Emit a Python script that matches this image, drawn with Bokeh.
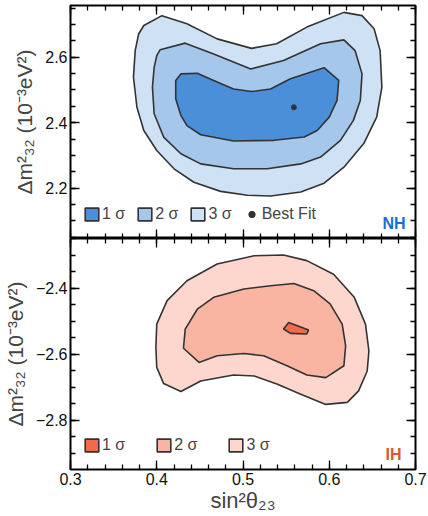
from bokeh.plotting import figure
from bokeh.layouts import column
from bokeh.models import LinearAxis, FixedTicker, Legend, LegendItem, Label, Range1d
from bokeh.embed import file_html
from bokeh.resources import INLINE

# ---------------- data ----------------
x_ticks = [0.3, 0.4, 0.5, 0.6, 0.7]
x_tick_labels = ["0.3", "0.4", "0.5", "0.6", "0.7"]
nh_y_ticks = [2.2, 2.4, 2.6]
nh_y_tick_labels = ["2.2", "2.4", "2.6"]
ih_y_ticks = [-2.8, -2.6, -2.4]
ih_y_tick_labels = ["\u22122.8", "\u22122.6", "\u22122.4"]

sigma_labels = ["1 \u03c3", "2 \u03c3", "3 \u03c3"]
best_fit_label = "Best Fit"

# NH contours
nh3_x = [0.385, 0.406, 0.435, 0.470, 0.510, 0.539, 0.574, 0.617, 0.638, 0.652, 0.659, 0.661, 0.655, 0.640,
         0.617, 0.594, 0.567, 0.532, 0.505, 0.474, 0.443, 0.420, 0.400, 0.385, 0.377, 0.373, 0.375, 0.379]
nh3_y = [2.697, 2.727, 2.702, 2.656, 2.627, 2.641, 2.692, 2.737, 2.727, 2.687, 2.620, 2.508, 2.417, 2.336,
         2.264, 2.215, 2.188, 2.176, 2.178, 2.190, 2.218, 2.259, 2.315, 2.376, 2.447, 2.539, 2.620, 2.671]
nh2_x = [0.404, 0.433, 0.466, 0.509, 0.547, 0.590, 0.617, 0.630, 0.638, 0.636, 0.628, 0.613, 0.590, 0.567,
         0.528, 0.489, 0.451, 0.428, 0.408, 0.397, 0.395, 0.397, 0.400]
nh2_y = [2.623, 2.643, 2.610, 2.564, 2.590, 2.641, 2.653, 2.620, 2.549, 2.468, 2.407, 2.346, 2.295, 2.274,
         2.259, 2.259, 2.274, 2.305, 2.356, 2.427, 2.508, 2.569, 2.605]
nh1_x = [0.428, 0.447, 0.466, 0.489, 0.510, 0.532, 0.555, 0.594, 0.611, 0.609, 0.600, 0.586, 0.571, 0.536,
         0.489, 0.451, 0.435, 0.428, 0.422, 0.422]
nh1_y = [2.549, 2.551, 2.529, 2.503, 2.495, 2.503, 2.534, 2.568, 2.529, 2.468, 2.417, 2.376, 2.356, 2.346,
         2.344, 2.363, 2.391, 2.422, 2.473, 2.529]
nh_best_x = [0.559]
nh_best_y = [2.447]

# IH contours
ih3_x = [0.399, 0.400, 0.412, 0.435, 0.470, 0.513, 0.547, 0.574, 0.605, 0.629, 0.642, 0.646, 0.644, 0.634,
         0.621, 0.596, 0.567, 0.540, 0.513, 0.489, 0.451, 0.428, 0.408, 0.400]
ih3_y = [-2.580, -2.509, -2.438, -2.378, -2.327, -2.302, -2.300, -2.317, -2.358, -2.428, -2.509, -2.590,
         -2.651, -2.711, -2.746, -2.752, -2.721, -2.691, -2.666, -2.663, -2.681, -2.713, -2.689, -2.640]
ih2_x = [0.431, 0.433, 0.447, 0.466, 0.501, 0.532, 0.559, 0.582, 0.601, 0.615, 0.619, 0.617, 0.596, 0.574,
         0.551, 0.524, 0.501, 0.470, 0.449]
ih2_y = [-2.582, -2.524, -2.464, -2.428, -2.403, -2.393, -2.386, -2.408, -2.448, -2.509, -2.575, -2.635,
         -2.671, -2.663, -2.635, -2.605, -2.598, -2.605, -2.625]
ih1_x = [0.547, 0.553, 0.576, 0.574, 0.555]
ih1_y = [-2.524, -2.504, -2.527, -2.539, -2.537]

nh_colors = ["#4a8fd8", "#a5c7ec", "#cee1f5"]
ih_colors = ["#f36a4a", "#f9b5a1", "#fdd7cd"]
x_range_vals = (0.3, 0.7)
nh_y_range = (2.046, 2.758)
ih_y_range = (-2.949, -2.250)

FONT = "Liberation Sans"
EDGE = "#333333"

x_minor = [round(0.3 + 0.02 * i, 4) for i in range(21)]
nh_minor = [round(2.05 + 0.05 * i, 4) for i in range(15)]
ih_minor = [round(-2.95 + 0.05 * i, 4) for i in range(15)]

xr = Range1d(*x_range_vals)


def style_axis(ax, ticks, labels, minor, show):
    ax.ticker = FixedTicker(ticks=ticks, minor_ticks=minor)
    ax.axis_line_color = None
    ax.major_tick_in = 9
    ax.major_tick_out = 0
    ax.minor_tick_in = 5
    ax.minor_tick_out = 0
    ax.major_tick_line_color = "black"
    ax.minor_tick_line_color = "black"
    ax.major_tick_line_width = 1.3
    ax.minor_tick_line_width = 1.3
    if show:
        ax.major_label_overrides = {t: l for t, l in zip(ticks, labels)}
        ax.major_label_text_font = FONT
        ax.major_label_text_font_size = "16px"
        ax.major_label_text_color = "#111111"
        ax.major_label_standoff = 3
    else:
        ax.major_label_text_font_size = "0px"
        ax.major_label_text_color = None
        ax.major_label_standoff = 0


def make_fig(yrange, yticks, ylabels, yminor, fh, show_x, top_border, bottom_border):
    p = figure(frame_width=345, frame_height=fh, x_range=xr, y_range=Range1d(*yrange),
               output_backend="svg", toolbar_location=None,
               x_axis_location=None, y_axis_location=None,
               min_border_left=70, min_border_right=13,
               min_border_top=top_border, min_border_bottom=bottom_border)
    p.outline_line_color = "black"
    p.outline_line_width = 2
    p.background_fill_color = "white"
    p.border_fill_color = "white"
    p.xgrid.grid_line_color = None
    p.ygrid.grid_line_color = None
    p.xgrid.visible = False
    p.ygrid.visible = False

    left = LinearAxis()
    style_axis(left, yticks, ylabels, yminor, True)
    left.axis_label = "\u0394m\u00b2\u2083\u2082 (10\u207b\u00b3eV\u00b2)"
    left.axis_label_text_font = FONT
    left.axis_label_text_font_size = "21px"
    left.axis_label_text_font_style = "normal"
    left.axis_label_standoff = 6
    p.add_layout(left, "left")

    right = LinearAxis()
    style_axis(right, yticks, ylabels, yminor, False)
    p.add_layout(right, "right")

    above = LinearAxis()
    style_axis(above, x_ticks, x_tick_labels, x_minor, False)
    p.add_layout(above, "above")

    below = LinearAxis()
    style_axis(below, x_ticks, x_tick_labels, x_minor, show_x)
    if show_x:
        below.axis_label = "sin\u00b2\u03b8\u2082\u2083"
        below.axis_label_text_font = FONT
        below.axis_label_text_font_size = "22px"
        below.axis_label_text_font_style = "normal"
        below.axis_label_standoff = 0
    p.add_layout(below, "below")
    return p


# ---------------- NH panel ----------------
p1 = make_fig(nh_y_range, nh_y_ticks, nh_y_tick_labels, nh_minor, 233, False, 5, 0)
r3 = p1.patch(nh3_x, nh3_y, fill_color=nh_colors[2], line_color=EDGE, line_width=1.6)
r2 = p1.patch(nh2_x, nh2_y, fill_color=nh_colors[1], line_color=EDGE, line_width=1.6)
r1 = p1.patch(nh1_x, nh1_y, fill_color=nh_colors[0], line_color=EDGE, line_width=1.6)
rb = p1.scatter(nh_best_x, nh_best_y, size=5, color=EDGE)
leg1 = Legend(items=[LegendItem(label=sigma_labels[0], renderers=[r1]),
                     LegendItem(label=sigma_labels[1], renderers=[r2]),
                     LegendItem(label=sigma_labels[2], renderers=[r3]),
                     LegendItem(label=best_fit_label, renderers=[rb])],
              orientation="horizontal", location=(13, 15), glyph_width=17, glyph_height=16,
              label_text_font=FONT, label_text_font_size="16px", label_standoff=2,
              label_width=10, spacing=11, padding=0, margin=0,
              border_line_color=None, background_fill_alpha=0)
p1.add_layout(leg1)
p1.add_layout(Label(x=x_range_vals[1], y=nh_y_range[0], x_offset=-10, y_offset=7, text="NH",
                    text_align="right", text_baseline="bottom", text_font=FONT,
                    text_font_size="16px", text_font_style="bold", text_color="#1b6fd2"))

# ---------------- IH panel ----------------
p2 = make_fig(ih_y_range, ih_y_ticks, ih_y_tick_labels, ih_minor, 231, True, 0, 46)
s3 = p2.patch(ih3_x, ih3_y, fill_color=ih_colors[2], line_color=EDGE, line_width=1.6)
s2 = p2.patch(ih2_x, ih2_y, fill_color=ih_colors[1], line_color=EDGE, line_width=1.6)
s1 = p2.patch(ih1_x, ih1_y, fill_color=ih_colors[0], line_color=EDGE, line_width=1.6)
leg2 = Legend(items=[LegendItem(label=sigma_labels[0], renderers=[s1]),
                     LegendItem(label=sigma_labels[1], renderers=[s2]),
                     LegendItem(label=sigma_labels[2], renderers=[s3])],
              orientation="horizontal", location=(13, 15), glyph_width=17, glyph_height=16,
              label_text_font=FONT, label_text_font_size="16px", label_standoff=2,
              label_width=10, spacing=30, padding=0, margin=0,
              border_line_color=None, background_fill_alpha=0)
p2.add_layout(leg2)
p2.add_layout(Label(x=x_range_vals[1], y=ih_y_range[0], x_offset=-14, y_offset=7, text="IH",
                    text_align="right", text_baseline="bottom", text_font=FONT,
                    text_font_size="16px", text_font_style="bold", text_color="#dc552c"))

layout = column(p1, p2, spacing=0)
open("out.html", "w").write(file_html(layout, INLINE))
